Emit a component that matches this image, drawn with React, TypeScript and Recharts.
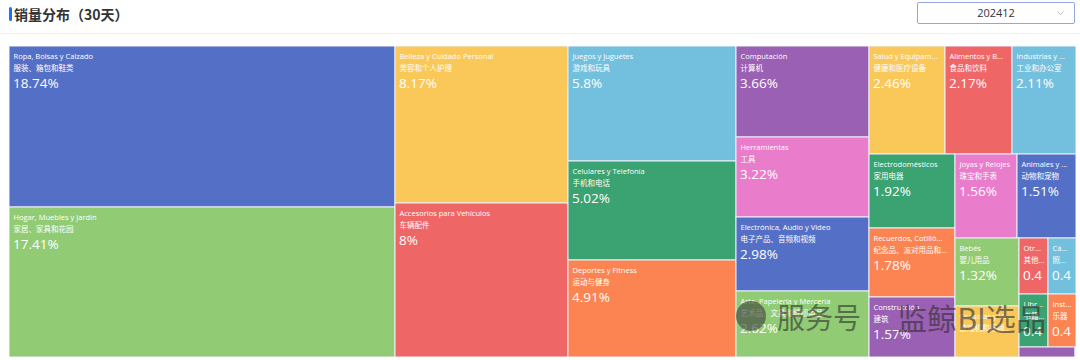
import React from 'react';
import { Treemap } from 'recharts';

const categories = [
  'Ropa, Bolsas y Calzado',
  'Hogar, Muebles y Jardín',
  'Belleza y Cuidado Personal',
  'Accesorios para Vehículos',
  'Juegos y Juguetes',
  'Celulares y Telefonía',
  'Deportes y Fitness',
  'Computación',
  'Herramientas',
  'Electrónica, Audio y Video',
  'Arte, Papelería y Mercería',
  'Salud y Equipamiento Médico',
  'Alimentos y Bebidas',
  'Industrias y Oficinas',
  'Electrodomésticos',
  'Recuerdos, Cotillón y Fiestas',
  'Construcción',
  'Joyas y Relojes',
  'Animales y Mascotas',
  'Bebés',
  'Consolas y Videojuegos',
  'Otras categorías',
  'Cámaras y Accesorios',
  'Libros, Revistas y Comics',
  'Instrumentos Musicales',
  'Antigüedades y Colecciones',
  'Música y Películas',
];

const categoriesZh = [
  '服装、箱包和鞋类',
  '家居、家具和花园',
  '美容和个人护理',
  '车辆配件',
  '游戏和玩具',
  '手机和电话',
  '运动与健身',
  '计算机',
  '工具',
  '电子产品、音频和视频',
  '艺术品、文具和缝纫用品',
  '健康和医疗设备',
  '食品和饮料',
  '工业和办公室',
  '家用电器',
  '纪念品、派对用品和节日用品',
  '建筑',
  '珠宝和手表',
  '动物和宠物',
  '婴儿用品',
  '游戏机和视频游戏',
  '其他类别',
  '照相机和配件',
  '书籍、杂志和漫画',
  '乐器',
  '古董和收藏品',
  '音乐和电影',
];

const shares = [
  18.74, 17.41, 8.17, 8, 5.8, 5.02, 4.91, 3.66, 3.22, 2.98, 2.62, 2.46, 2.17, 2.11,
  1.92, 1.78, 1.57, 1.56, 1.51, 1.32, 0.98, 0.49, 0.48, 0.46, 0.45, 0.17, 0.04,
];

const periodLabel = '202412';
const titleText = '销量分布（30天）';
const watermarkA = '服务号';
const watermarkB = '监鲸BI选品';

const PALETTE = ['#5470c6', '#91cc75', '#fac858', '#ee6666', '#73c0de', '#3ba272', '#fc8452', '#9a60b4', '#ea7ccc'];

const treeData = categories.map((name, i) => ({ name, zh: categoriesZh[i], value: shares[i] }));

const FONT = "'Open Sans','Noto Sans CJK SC',sans-serif";
const SMALL = 7.5;
const BIG = 13.5;

let measureCtx: CanvasRenderingContext2D | null = null;
function measure(text: string, size: number): number {
  if (!measureCtx) {
    const c = document.createElement('canvas');
    measureCtx = c.getContext('2d');
  }
  if (!measureCtx) return text.length * size * 0.55;
  measureCtx.font = `${size}px ${FONT}`;
  return measureCtx.measureText(text).width;
}

// truncation in the style of zrender: proportional cuts, then an ellipsis
function truncateLabel(text: string, size: number, containerWidth: number): string {
  let ellipsis = '...';
  let ellW = measure(ellipsis, size);
  if (ellW > containerWidth) {
    ellipsis = '';
    ellW = 0;
  }
  const contentWidth = Math.max(0, containerWidth - ellW);
  let lineWidth = measure(text, size);
  if (lineWidth <= containerWidth) return text;
  const ascW = measure('a', size);
  const cnW = measure('国', size);
  let t = text;
  for (let j = 0; ; j++) {
    if (lineWidth <= contentWidth || j >= 2) {
      t += ellipsis;
      break;
    }
    let sub: number;
    if (j === 0) {
      let w = 0;
      let i = 0;
      for (; i < t.length && w < contentWidth; i++) {
        const code = t.charCodeAt(i);
        w += code <= 127 ? ascW : cnW;
      }
      sub = i;
    } else {
      sub = lineWidth > 0 ? Math.floor((t.length * contentWidth) / lineWidth) : 0;
    }
    t = t.substr(0, sub);
    lineWidth = measure(t, size);
  }
  return t;
}

function clipPrefix(text: string, size: number, maxW: number): string {
  if (measure(text, size) <= maxW) return text;
  for (let n = text.length - 1; n > 0; n--) {
    const t = text.slice(0, n);
    if (measure(t, size) <= maxW) return t;
  }
  return '';
}

const CellContent = (props: any) => {
  const { x, y, width, height, depth, index, name, zh, value } = props;
  if (depth !== 1) return null;
  const fill = PALETTE[index % PALETTE.length];
  const avail = width - 8;
  const showText = width > 16 && height > 16;
  const clipId = `cell-clip-${index}`;
  return (
    <g>
      <rect x={x} y={y} width={width} height={height} fill={fill} stroke="#eef0fb" strokeWidth={1} />
      <clipPath id={clipId}>
        <rect x={x} y={y} width={Math.max(0, width - 1)} height={Math.max(0, height - 1)} />
      </clipPath>
      {showText && (
        <g clipPath={`url(#${clipId})`} fontFamily={FONT} fill="#fff">
          {height > 14 && (
            <text x={x + 4.5} y={y + 12.5} fontSize={SMALL}>
              {truncateLabel(String(name), SMALL, avail)}
            </text>
          )}
          {height > 27 && (
            <text x={x + 4.5} y={y + 24.8} fontSize={SMALL}>
              {truncateLabel(String(zh), SMALL, avail)}
            </text>
          )}
          {height >= 52 && (
            <text x={x + 4} y={y + 42} fontSize={BIG}>
              {clipPrefix(`${value}%`, BIG, width - 8)}
            </text>
          )}
        </g>
      )}
    </g>
  );
};

export default function App() {
  return (
    <div style={{ position: 'absolute', left: 0, top: 0, width: 1080, height: 360, background: '#fff', overflow: 'hidden' }}>
      {/* header */}
      <div style={{ position: 'absolute', left: 9, top: 7, width: 3, height: 14, background: '#1f6fff', borderRadius: 1.5 }} />
      <div
        style={{
          position: 'absolute',
          left: 14,
          top: 4,
          fontFamily: "'Noto Sans CJK SC', sans-serif",
          fontWeight: 700,
          fontSize: 14,
          lineHeight: '20px',
          color: '#333',
        }}
      >
        {titleText}
      </div>
      <div
        style={{
          position: 'absolute',
          left: 917,
          top: 2,
          width: 158,
          height: 22,
          border: '1px solid #93a6e2',
          borderRadius: 2,
          boxSizing: 'border-box',
          fontFamily: "'Open Sans', sans-serif",
          fontSize: 11,
          lineHeight: '20px',
          color: '#333',
          textAlign: 'center',
        }}
      >
        {periodLabel}
        <svg style={{ position: 'absolute', right: 10, top: 8 }} width={7} height={5}>
          <polyline points="0.5,0.5 3.5,3.5 6.5,0.5" fill="none" stroke="#aaa" strokeWidth={0.8} />
        </svg>
      </div>
      <div style={{ position: 'absolute', left: 0, top: 33, width: 1080, height: 1, background: '#eceef6' }} />

      {/* treemap */}
      <div style={{ position: 'absolute', left: 9, top: 46 }}>
        <Treemap
          width={1067}
          height={311}
          data={treeData}
          dataKey="value"
          nameKey="name"
          isAnimationActive={false}
          content={(p: any) => <CellContent {...p} />}
        />
      </div>

      {/* watermark overlay */}
      <svg style={{ position: 'absolute', left: 0, top: 0, pointerEvents: 'none' }} width={1080} height={360}>
        <g opacity={0.6}>
          <circle cx={751} cy={316} r={15} fill="#3a3a3a" />
          <text
            x={777}
            y={329}
            fontSize={29}
            fill="#2f2f2f"
            fontFamily="'Noto Sans CJK SC', sans-serif"
            textLength={84}
            lengthAdjust="spacingAndGlyphs"
          >
            {watermarkA}
          </text>
          <text
            x={897}
            y={330}
            fontSize={30}
            fill="#2f2f2f"
            fontFamily="'Noto Sans CJK SC', sans-serif"
            textLength={149}
            lengthAdjust="spacingAndGlyphs"
          >
            {watermarkB}
          </text>
        </g>
      </svg>
    </div>
  );
}
